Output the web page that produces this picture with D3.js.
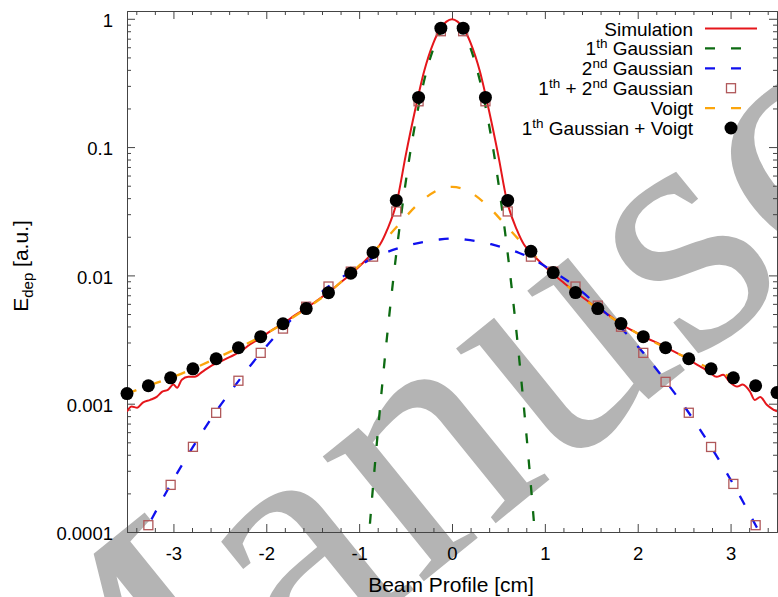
<!DOCTYPE html>
<html>
<head>
<meta charset="utf-8">
<script src="https://cdn.jsdelivr.net/npm/d3@7"></script>
<style>
  body { margin: 0; background: #fff; }
  svg text { font-family: "Liberation Sans", Arial, Helvetica, sans-serif; fill: #000; }
</style>
</head>
<body>
<svg id="chart" width="778" height="597"></svg>
<script>
// ---- axis ticks ----
const xTickValues = [-3, -2, -1, 0, 1, 2, 3];
const xTickLabels = ["-3", "-2", "-1", "0", "1", "2", "3"];
const yTickValues = [0.0001, 0.001, 0.01, 0.1, 1];
const yTickLabels = ["0.0001", "0.001", "0.01", "0.1", "1"];

// ---- Simulation (energy deposit profile) ----
const simX = [-3.50,-3.45,-3.39,-3.33,-3.25,-3.18,-3.12,-3.06,-3.00,-2.96,-2.91,-2.84,-2.77,-2.69,-2.61,-2.50,-2.39,-2.28,-2.18,-2.09,
  -1.95,-1.81,-1.69,-1.57,-1.45,-1.33,-1.20,-1.08,-0.96,-0.84,-0.775,-0.70,-0.59,-0.50,-0.40,-0.30,-0.20,-0.12,-0.06,0,
  0.06,0.12,0.20,0.30,0.40,0.50,0.59,0.70,0.775,0.84,0.96,1.08,1.20,1.33,1.45,1.57,1.69,1.81,1.95,2.07,
  2.20,2.32,2.44,2.55,2.62,2.70,2.78,2.85,2.92,2.99,3.07,3.13,3.21,3.26,3.32,3.39,3.46,3.50];
const simY = [0.00087,0.00095,0.00093,0.00102,0.00107,0.00113,0.00124,0.00128,0.00141,0.00133,0.00154,0.00162,0.00162,0.00177,0.00194,0.00212,0.00232,0.00254,0.00288,0.00316,
  0.00370,0.00425,0.00490,0.00555,0.00640,0.00740,0.00880,0.01040,0.01250,0.01540,0.01740,0.02250,0.03850,0.0850,0.190,0.390,0.650,0.850,0.950,0.990,
  0.950,0.850,0.650,0.390,0.190,0.0850,0.03850,0.02250,0.01740,0.01530,0.01250,0.01040,0.00880,0.00740,0.00640,0.00550,0.00490,0.00420,0.00370,0.00330,
  0.00300,0.00270,0.00245,0.00222,0.00205,0.00190,0.00174,0.00162,0.00168,0.00148,0.00136,0.00141,0.00124,0.00107,0.00113,0.00098,0.00090,0.00087];

// ---- 1th Gaussian ----
const g1X = [-0.95,-0.90,-0.85,-0.80,-0.75,-0.70,-0.65,-0.60,-0.55,-0.50,-0.45,-0.40,-0.35,-0.30,-0.25,-0.20,-0.15,-0.10,-0.05,0,
  0.05,0.10,0.15,0.20,0.25,0.30,0.35,0.40,0.45,0.50,0.55,0.60,0.65,0.70,0.75,0.80,0.85,0.90,0.95];
const g1Y = [2.87e-5,8.3e-5,2.28e-4,5.89e-4,1.437e-3,3.31e-3,7.19e-3,0.01477,0.0286,0.0524,0.0905,0.1475,0.227,0.330,0.453,0.587,0.718,0.829,0.904,0.930,
  0.904,0.829,0.718,0.587,0.453,0.330,0.227,0.1475,0.0905,0.0524,0.0286,0.01477,7.19e-3,3.31e-3,1.437e-3,5.89e-4,2.28e-4,8.3e-5,2.87e-5];

// ---- 2nd Gaussian ----
const g2X = [-3.50,-3.27,-3.03,-2.79,-2.55,-2.30,-2.06,-1.82,-1.57,-1.33,-1.09,-0.85,-0.71,-0.42,-0.15,0,
  0.15,0.42,0.71,0.85,1.09,1.33,1.57,1.82,2.06,2.30,2.55,2.79,3.03,3.27,3.50];
const g2Y = [0.000055,0.000113,0.000235,0.00046,0.00085,0.00150,0.00249,0.0039,0.0058,0.0082,0.0107,0.0137,0.0151,0.0175,0.0190,0.0194,
  0.0190,0.0175,0.0151,0.0137,0.0107,0.0082,0.0058,0.0039,0.00249,0.00150,0.00085,0.00046,0.000235,0.000113,0.000055];

// ---- Voigt ----
const voigtX = [-3.50,-3.27,-3.03,-2.79,-2.55,-2.30,-2.06,-1.82,-1.57,-1.33,-1.09,-0.85,-0.70,-0.57,-0.40,-0.33,-0.16,0,
  0.16,0.33,0.40,0.57,0.70,0.85,1.09,1.33,1.57,1.82,2.06,2.30,2.55,2.79,3.03,3.27,3.50];
const voigtY = [0.00120,0.00138,0.00159,0.00187,0.00224,0.00273,0.00333,0.00421,0.00551,0.00734,0.0104,0.0152,0.0197,0.0250,0.0340,0.0378,0.0460,0.0490,
  0.0460,0.0378,0.0340,0.0250,0.0197,0.0152,0.0104,0.00734,0.00551,0.00421,0.00333,0.00273,0.00224,0.00187,0.00159,0.00138,0.00121];

// ---- sampled sums (markers) ----
const sampleX = [-3.50,-3.27,-3.03,-2.79,-2.54,-2.30,-2.06,-1.82,-1.57,-1.33,-1.09,-0.85,-0.60,-0.36,-0.12,
  0.12,0.36,0.60,0.85,1.09,1.33,1.57,1.82,2.06,2.30,2.55,2.79,3.03,3.27,3.50];
const sumG1G2 = [0.00005,0.000113,0.000233,0.000461,0.000849,0.00151,0.00249,0.00385,0.00570,0.00819,0.0107,0.0140,0.0315,0.2275,0.800,
  0.800,0.2275,0.0315,0.0140,0.0107,0.00819,0.00581,0.00398,0.00249,0.00148,0.00085,0.00046,0.000237,0.000113,0.00005];
const sumG1Voigt = [0.00120,0.00138,0.00159,0.00187,0.00224,0.00273,0.00333,0.00420,0.00551,0.00734,0.01040,0.01510,0.0384,0.244,0.845,
  0.845,0.244,0.0384,0.0154,0.01052,0.00735,0.00551,0.00421,0.00333,0.00273,0.00224,0.00187,0.00159,0.00138,0.00122];

// ---- legend ----
const legendLabels = [
  [["Simulation", false]],
  [["1", false], ["th", true], [" Gaussian", false]],
  [["2", false], ["nd", true], [" Gaussian", false]],
  [["1", false], ["th", true], [" + 2", false], ["nd", true], [" Gaussian", false]],
  [["Voigt", false]],
  [["1", false], ["th", true], [" Gaussian + Voigt", false]]
];

const colors = { sim: "#e5161b", g1: "#0d6b12", g2: "#1010ee", sq: "#b0585a", voigt: "#fba50c", dot: "#000" };

const svg = d3.select("#chart");
const pL = 127, pR = 777, pT = 11, pB = 532;
const x = d3.scaleLinear().domain([-3.5, 3.5]).range([pL, pR]);
const y = d3.scaleLog().domain([1e-4, 1.15]).range([pB, pT]);

// background watermark lettering
svg.append("text")
  .attr("transform", "translate(55,880) rotate(-39)")
  .style("font-family", "'Liberation Serif', 'Times New Roman', serif")
  .style("font-size", "350px")
  .style("fill", "#b4b4b4")
  .text("Manuscript");

svg.append("defs").append("clipPath").attr("id", "plotclip")
  .append("rect").attr("x", pL).attr("y", pT).attr("width", pR - pL).attr("height", pB - pT);

// ---- axes with inward ticks (mirrored on all four sides) ----
const axisColor = "#444";
const xMinor = d3.range(-3.4, 3.5, 0.2).map(v => +v.toFixed(1)).filter(v => Math.abs(v - Math.round(v)) > 1e-6);
const yMinor = [];
[1e-4, 1e-3, 1e-2, 1e-1].forEach(d => { for (let k = 2; k <= 9; k++) yMinor.push(d * k); });

function styleAxis(g) {
  g.selectAll("path.domain").attr("stroke", axisColor);
  g.selectAll(".tick line").attr("stroke", axisColor);
}

const gx = svg.append("g").attr("transform", `translate(0,${pB})`)
  .call(d3.axisBottom(x).tickValues(xTickValues).tickFormat((d, i) => xTickLabels[i]).tickSize(-8).tickSizeOuter(0).tickPadding(15));
gx.selectAll("text").style("font-size", "18.5px");
styleAxis(gx);
const gxm = svg.append("g").attr("transform", `translate(0,${pB})`)
  .call(d3.axisBottom(x).tickValues(xMinor).tickFormat("").tickSize(-4).tickSizeOuter(0));
styleAxis(gxm);

const gt = svg.append("g").attr("transform", `translate(0,${pT})`)
  .call(d3.axisTop(x).tickValues(xTickValues).tickFormat("").tickSize(-8).tickSizeOuter(0));
styleAxis(gt);
const gtm = svg.append("g").attr("transform", `translate(0,${pT})`)
  .call(d3.axisTop(x).tickValues(xMinor).tickFormat("").tickSize(-4).tickSizeOuter(0));
styleAxis(gtm);

const gy = svg.append("g").attr("transform", `translate(${pL},0)`)
  .call(d3.axisLeft(y).tickValues(yTickValues).tickFormat((d, i) => yTickLabels[i]).tickSize(-8).tickSizeOuter(0).tickPadding(14));
gy.selectAll("text").style("font-size", "18.5px").attr("dy", "0.42em");
styleAxis(gy);
const gym = svg.append("g").attr("transform", `translate(${pL},0)`)
  .call(d3.axisLeft(y).tickValues(yMinor).tickFormat("").tickSize(-4).tickSizeOuter(0));
styleAxis(gym);

const gr = svg.append("g").attr("transform", `translate(${pR},0)`)
  .call(d3.axisRight(y).tickValues(yTickValues).tickFormat("").tickSize(-8).tickSizeOuter(0));
styleAxis(gr);
const grm = svg.append("g").attr("transform", `translate(${pR},0)`)
  .call(d3.axisRight(y).tickValues(yMinor).tickFormat("").tickSize(-4).tickSizeOuter(0));
styleAxis(grm);

// ---- axis titles ----
svg.append("text").attr("x", (pL + pR) / 2 - 1).attr("y", 592)
  .attr("text-anchor", "middle").style("font-size", "21px").text("Beam Profile [cm]");

const yl = svg.append("text").attr("transform", "translate(28,266) rotate(-90)")
  .attr("text-anchor", "middle").style("font-size", "21px");
yl.append("tspan").text("E");
yl.append("tspan").attr("dy", 5).style("font-size", "15px").text("dep");
yl.append("tspan").attr("dy", -5).text(" [a.u.]");

// ---- curves ----
const plot = svg.append("g").attr("clip-path", "url(#plotclip)");
const line = d3.line().x(d => x(d[0])).y(d => y(Math.max(d[1], 1e-6))).curve(d3.curveMonotoneX);
const zip = (xs, ys) => xs.map((v, i) => [v, ys[i]]);

plot.append("path").attr("d", line(zip(simX, simY)))
  .attr("fill", "none").attr("stroke", colors.sim).attr("stroke-width", 2);
plot.append("path").attr("d", line(zip(g1X, g1Y)))
  .attr("fill", "none").attr("stroke", colors.g1).attr("stroke-width", 2.3).attr("stroke-dasharray", "10,16");
plot.append("path").attr("d", line(zip(g2X, g2Y)))
  .attr("fill", "none").attr("stroke", colors.g2).attr("stroke-width", 2.3).attr("stroke-dasharray", "10,16");

const inRange = d => d[0] >= -3.5 && d[0] <= 3.5 && d[1] >= 1e-4 && d[1] <= 1.15;
const sq = 9;
svg.append("g").selectAll("rect").data(zip(sampleX, sumG1G2).filter(inRange)).join("rect")
  .attr("x", d => x(d[0]) - sq / 2).attr("y", d => y(d[1]) - sq / 2)
  .attr("width", sq).attr("height", sq)
  .attr("fill", "none").attr("stroke", colors.sq).attr("stroke-width", 1.3);

plot.append("path").attr("d", line(zip(voigtX, voigtY)))
  .attr("fill", "none").attr("stroke", colors.voigt).attr("stroke-width", 2.3).attr("stroke-dasharray", "10,16");

svg.append("g").selectAll("circle").data(zip(sampleX, sumG1Voigt).filter(inRange)).join("circle")
  .attr("cx", d => x(d[0])).attr("cy", d => y(d[1])).attr("r", 6.5).attr("fill", colors.dot);

// ---- legend ----
const legTextX = 693, legX0 = 705, legX1 = 757, legY0 = 28.5, legDy = 19.9;
const lg = svg.append("g");
legendLabels.forEach((parts, i) => {
  const cy = legY0 + i * legDy;
  const t = lg.append("text").attr("x", legTextX).attr("y", cy + 7).attr("text-anchor", "end").style("font-size", "19px");
  let up = false;
  parts.forEach(([s, sup]) => {
    const ts = t.append("tspan").text(s);
    if (sup && !up) { ts.attr("dy", -7).style("font-size", "13.5px"); up = true; }
    else if (!sup && up) { ts.attr("dy", 7); up = false; }
    else if (sup) ts.style("font-size", "13.5px");
  });
});
const legLine = (i, c, dash) => lg.append("line").attr("x1", legX0).attr("x2", legX1)
  .attr("y1", legY0 + i * legDy).attr("y2", legY0 + i * legDy)
  .attr("stroke", c).attr("stroke-width", i === 0 ? 2 : 2.3).attr("stroke-dasharray", dash);
legLine(0, colors.sim, null);
legLine(1, colors.g1, "10,16");
legLine(2, colors.g2, "10,16");
lg.append("rect").attr("x", 731 - sq / 2).attr("y", legY0 + 3 * legDy - sq / 2).attr("width", sq).attr("height", sq)
  .attr("fill", "none").attr("stroke", colors.sq).attr("stroke-width", 1.3);
legLine(4, colors.voigt, "10,16");
lg.append("circle").attr("cx", 731).attr("cy", legY0 + 5 * legDy).attr("r", 6.5).attr("fill", colors.dot);
</script>
</body>
</html>
